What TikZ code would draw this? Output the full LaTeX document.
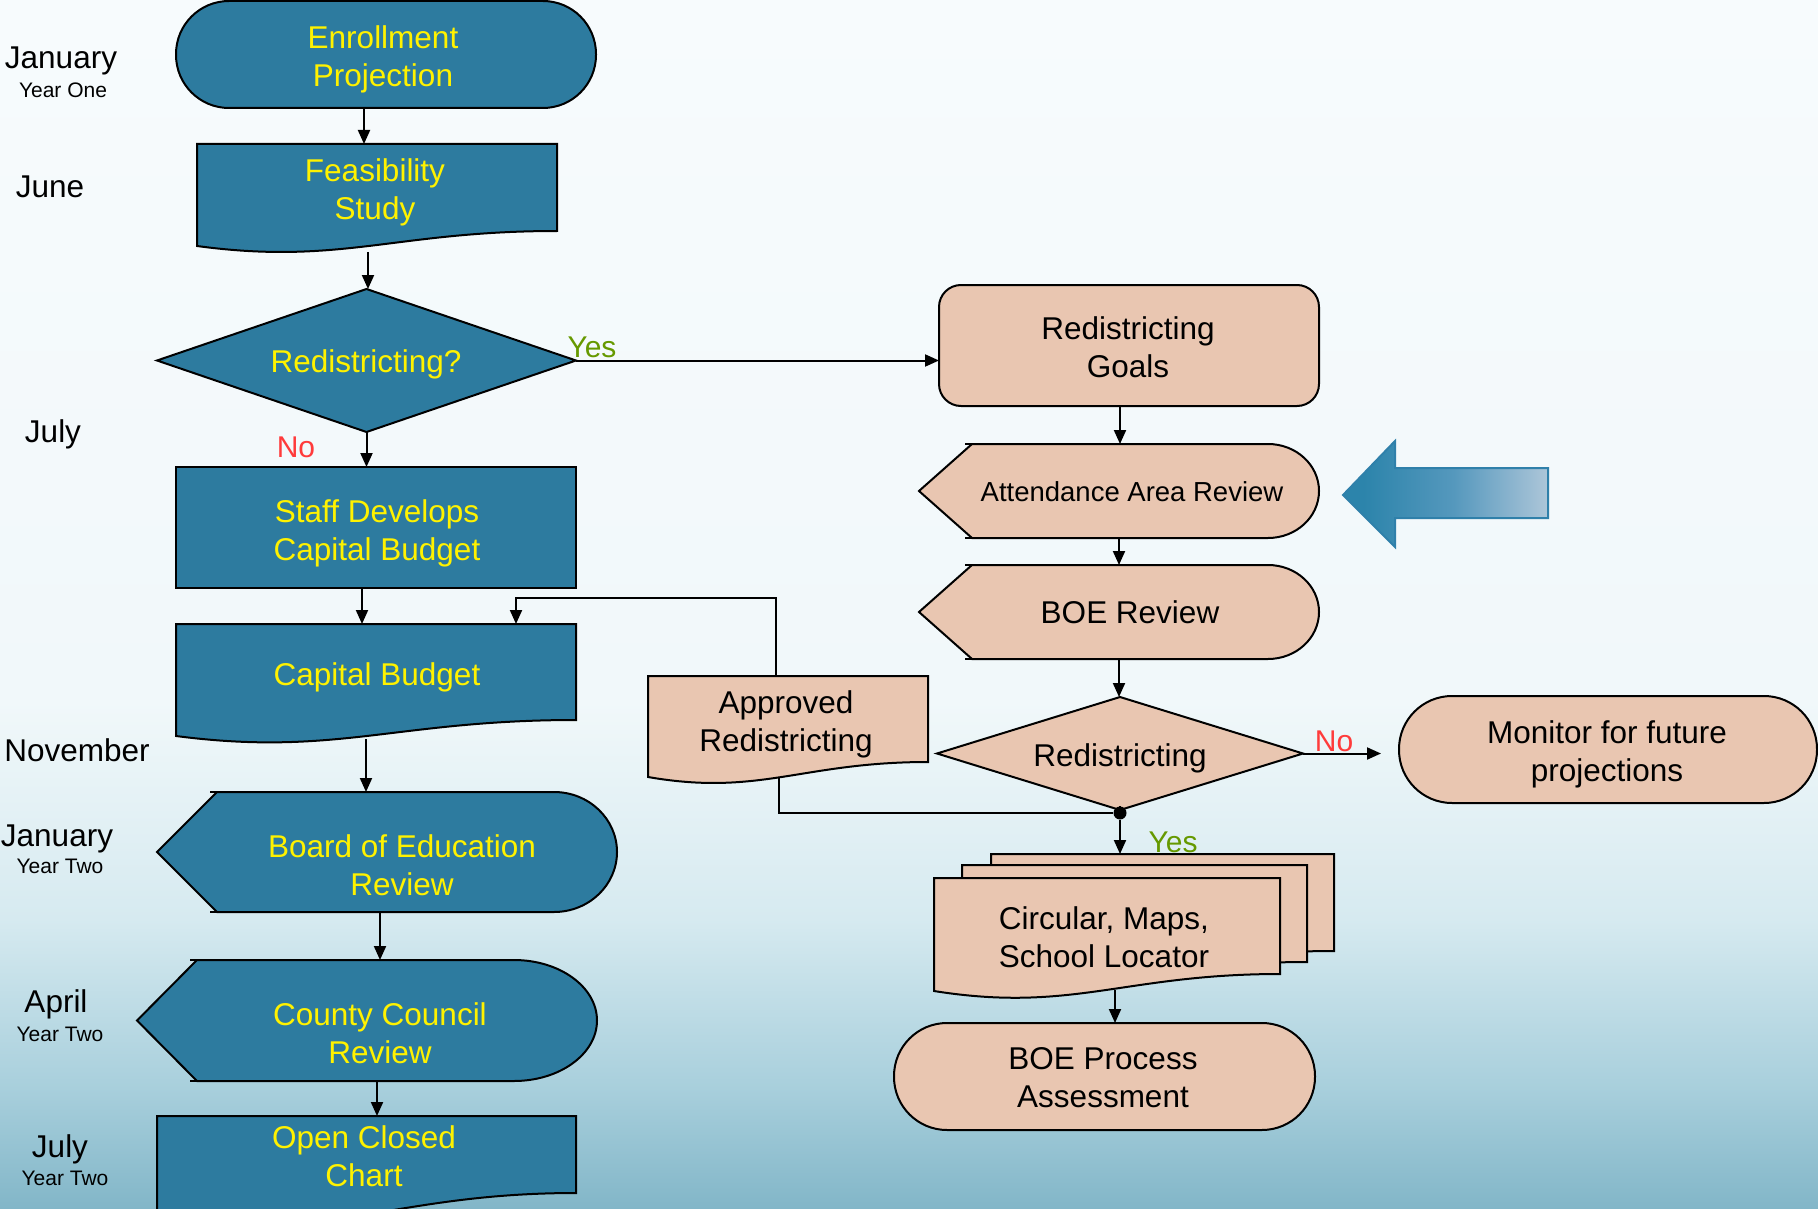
\documentclass[tikz,border=0pt]{standalone}
\usepackage{fontspec}
\setmainfont{Liberation Sans}
\usetikzlibrary{arrows.meta,fit,calc}

\definecolor{dblue}{HTML}{2D7B9F}
\definecolor{peach}{HTML}{E9C6B1}
\definecolor{yesgreen}{HTML}{669900}
\definecolor{nored}{HTML}{FF3B3B}
\definecolor{bgA}{HTML}{82B6C8}
\definecolor{bgB}{HTML}{A8CFDC}
\definecolor{bgC}{HTML}{D6EAF0}
\definecolor{bgD}{HTML}{F1F8FA}
\definecolor{bgE}{HTML}{F7FBFD}
\definecolor{arrdark}{HTML}{2C84AB}
\definecolor{arrmid}{HTML}{5598BD}
\definecolor{arrlight}{HTML}{ADC6D9}
\definecolor{arredge}{HTML}{2F80AA}

% the path covers the 25bp..75bp band of a shading
\pgfdeclareverticalshading{bgshade}{100bp}{color(0bp)=(bgA); color(25bp)=(bgA); color(30bp)=(bgB); color(37bp)=(bgC); color(46bp)=(bgD); color(75bp)=(bgE); color(100bp)=(bgE)}
\pgfdeclarehorizontalshading{arrshade}{100bp}{color(0bp)=(arrdark); color(30bp)=(arrdark); color(52bp)=(arrmid); color(75bp)=(arrlight); color(100bp)=(arrlight)}

% document shape: style, L, R, top, y right bottom, y left bottom
\newcommand{\DocShape}[6]{%
  \pgfmathsetmacro{\DCw}{#3-#2}%
  \pgfmathsetmacro{\DCh}{#6-#5}%
  \path[#1] (#2,#4) -- (#3,#4) -- (#3,#5) .. controls ({#2+0.55*\DCw},#5) and ({#2+0.4*\DCw},{#6+1.3*\DCh}) .. (#2,#6) -- cycle;%
}
% display shape: style, left point x, corner x, arc start x, right x, top, bottom
\newcommand{\DispShape}[7]{%
  \pgfmathsetmacro{\DSmid}{(#6+#7)/2}%
  \pgfmathsetmacro{\DSrx}{#5-#4}%
  \pgfmathsetmacro{\DSry}{(#7-#6)/2}%
  \path[#1] (#2,\DSmid) -- (#3,#6) -- (#4,#6) .. controls ({#4+0.5523*\DSrx},#6) and (#5,{\DSmid-0.5523*\DSry}) .. (#5,\DSmid) .. controls (#5,{\DSmid+0.5523*\DSry}) and ({#4+0.5523*\DSrx},#7) .. (#4,#7) -- (#3,#7) -- cycle;%
  \draw[line width=2pt] ({#3-7},#6) -- (#3,#6) ({#3-7},#7) -- (#3,#7);%
}

\tikzset{
  txt/.style={align=center, inner sep=0pt, font=\fontsize{31.5}{38}\selectfont},
  ytxt/.style={txt, text=yellow},
  ktxt/.style={txt, text=black},
  month/.style={inner sep=0pt, font=\fontsize{31.5}{38}\selectfont},
  yearlbl/.style={inner sep=0pt, font=\fontsize{21}{25}\selectfont},
  shp/.style={draw=black, line width=2pt},
  bb/.style={inner sep=0pt, outer sep=0pt},
  arr/.style={-{Triangle[length=14pt,width=12pt]}, line width=2pt},
  lin/.style={line width=2pt},
}

\begin{document}
\begin{tikzpicture}[x=1pt,y=-1pt]
\useasboundingbox (0,0) rectangle (1818,1209);
\clip (0,0) rectangle (1818,1209);
\shade[shading=bgshade] (0,0) rectangle (1818,1209);

% big blue arrow
\shade[shading=arrshade, draw=arredge, line width=2pt] (1343,495) -- (1395,441) -- (1395,468) -- (1548,468) -- (1548,518) -- (1395,518) -- (1395,547) -- cycle;

% ---------- left column ----------
\node[bb, shp, fill=dblue, rounded corners=53pt, fit={(176,1)(596,108)}] (enr) {};
\node[ytxt] (enr-t) at (383,59) {Enrollment\\Projection};

\DocShape{shp, fill=dblue}{197}{557}{144}{231}{246}
\node[bb, fit={(197,144)(557,252)}] (feas) {};
\node[ytxt] (feas-t) at (375,192) {Feasibility\\Study};

\node[bb, fit={(157,289)(576,432)}] (dia1) {};
\path[shp, fill=dblue] (dia1.west) -- (dia1.north) -- (dia1.east) -- (dia1.south) -- cycle;
\node[ytxt] (dia1-t) at (366,364) {Redistricting?};

\node[bb, shp, fill=dblue, fit={(176,467)(576,588)}] (staff) {};
\node[ytxt] (staff-t) at (377,533) {Staff Develops\\Capital Budget};

\DocShape{shp, fill=dblue}{176}{576}{624}{720}{736}
\node[bb, fit={(176,624)(576,742)}] (cap) {};
\node[ytxt] (cap-t) at (377,677) {Capital Budget};

\DispShape{shp, fill=dblue}{157}{217}{554}{617}{792}{912}
\node[bb, fit={(157,792)(617,912)}] (board) {};
\node[ytxt] (board-t) at (402,865) {Board of Education\\Review};

\DispShape{shp, fill=dblue}{137}{197}{514}{597}{960}{1081}
\node[bb, fit={(137,960)(597,1081)}] (county) {};
\node[ytxt] (county-t) at (380,1033) {County Council\\Review};

\DocShape{shp, fill=dblue}{157}{576}{1116}{1193}{1216}
\node[bb, fit={(157,1116)(576,1220)}] (open) {};
\node[ytxt] (open-t) at (364,1156) {Open Closed\\Chart};

% ---------- right column ----------
\node[bb, shp, fill=peach, rounded corners=22pt, fit={(939,285)(1319,406)}] (goals) {};
\node[ktxt] (goals-t) at (1128,347) {Redistricting\\Goals};

\DispShape{shp, fill=peach}{919}{972}{1268}{1319}{444}{538}
\node[bb, fit={(919,444)(1319,538)}] (att) {};
\node[ktxt, font=\fontsize{27.5}{33}\selectfont] (att-t) at (1132,492) {Attendance Area Review};

\DispShape{shp, fill=peach}{919}{972}{1268}{1319}{565}{659}
\node[bb, fit={(919,565)(1319,659)}] (boe) {};
\node[ktxt] (boe-t) at (1130,612) {BOE Review};

\node[bb, fit={(937,697)(1303,810)}] (dia2) {};
\path[shp, fill=peach] (dia2.west) -- (dia2.north) -- (dia2.east) -- (dia2.south) -- cycle;
\node[ktxt] (dia2-t) at (1120,758) {Redistricting};

\node[bb, shp, fill=peach, rounded corners=53pt, fit={(1399,696)(1817,803)}] (mon) {};
\node[ktxt] (mon-t) at (1607,754) {Monitor for future\\projections};

\DocShape{shp, fill=peach}{648}{928}{676}{762}{777}
\node[bb, fit={(648,676)(928,783)}] (appr) {};
\node[ktxt] (appr-t) at (786,724) {Approved\\Redistricting};

\DocShape{shp, fill=peach}{991}{1334}{854}{951}{967}
\DocShape{shp, fill=peach}{962}{1307}{865}{962}{978}
\DocShape{shp, fill=peach}{934}{1280}{878}{974}{991}
\node[bb, fit={(934,854)(1334,998)}] (multi) {};
\node[ktxt] (multi-t) at (1104,937) {Circular, Maps,\\School Locator};

\node[bb, shp, fill=peach, rounded corners=53pt, fit={(894,1023)(1315,1130)}] (proc) {};
\node[ktxt] (proc-t) at (1103,1078) {BOE Process\\Assessment};

\node[circle, fill=black, inner sep=0pt, minimum size=13pt] (dot) at (1120,813) {};

% ---------- month labels ----------
\node[month] (jan1) at (61,61) {January};
\node[yearlbl] (yr1) at (63,90) {Year One};
\node[month] (june) at (50,187) {June};
\node[month] (jul1) at (53,434) {July};
\node[month] (nov) at (77,750) {November};
\node[month] (jan2) at (57,839) {January};
\node[yearlbl] (yr2a) at (60,866) {Year Two};
\node[month] (apr) at (56,1004) {April};
\node[yearlbl] (yr2b) at (60,1034) {Year Two};
\node[month] (jul2) at (60,1149) {July};
\node[yearlbl] (yr2c) at (65,1178) {Year Two};

% ---------- connectors ----------
\draw[arr] ([xshift=-22pt]enr.south) -- ([xshift=-22pt]enr.south |- feas.north);
\draw[arr] ([xshift=-9pt]feas.south) -- ([xshift=-9pt]feas.south |- dia1.north);
\draw[arr] (dia1.south) -- (dia1.south |- staff.north);
\draw[arr] ([xshift=-14pt]staff.south) -- ([xshift=-14pt]staff.south |- cap.north);
\draw[arr] ([xshift=-10pt,yshift=3pt]cap.south) -- ([xshift=-10pt]cap.south |- board.north);
\draw[arr] ([xshift=-7pt]board.south) -- ([xshift=-7pt]board.south |- county.north);
\draw[arr] ([xshift=10pt]county.south) -- ([xshift=10pt]county.south |- open.north);
\draw[arr] (dia1.east) -- (dia1.east -| goals.west);
\draw[arr] ([xshift=-9pt]goals.south) -- ([xshift=-9pt]goals.south |- att.north);
\draw[arr] (att.south) -- (att.south |- boe.north);
\draw[arr] (boe.south) -- (boe.south |- dia2.north);
\draw[arr] (dia2.east) -- ([xshift=-18pt]dia2.east -| mon.west);
\draw[lin] (dia2.south) -- (dot);
\draw[arr] (dot) -- (dot |- multi.north);
\draw[lin] ([xshift=-9pt,yshift=6pt]appr.south) |- (dot);
\draw[arr] ([xshift=-12pt]appr.north) -- ++(0,-78) -| ([xshift=140pt]cap.north);
\draw[arr] ([xshift=-19pt,yshift=8pt]multi.south) -- ([xshift=-19pt]multi.south |- proc.north);

% ---------- branch labels ----------
\node[txt, text=yesgreen, font=\fontsize{30}{36}\selectfont] (yes1) at (592,347) {Yes};
\node[txt, text=nored, font=\fontsize{30}{36}\selectfont] (no1) at (296,447) {No};
\node[txt, text=nored, font=\fontsize{30}{36}\selectfont] (no2) at (1334,741) {No};
\node[txt, text=yesgreen, font=\fontsize{30}{36}\selectfont] (yes2) at (1173,842) {Yes};
\end{tikzpicture}
\end{document}
